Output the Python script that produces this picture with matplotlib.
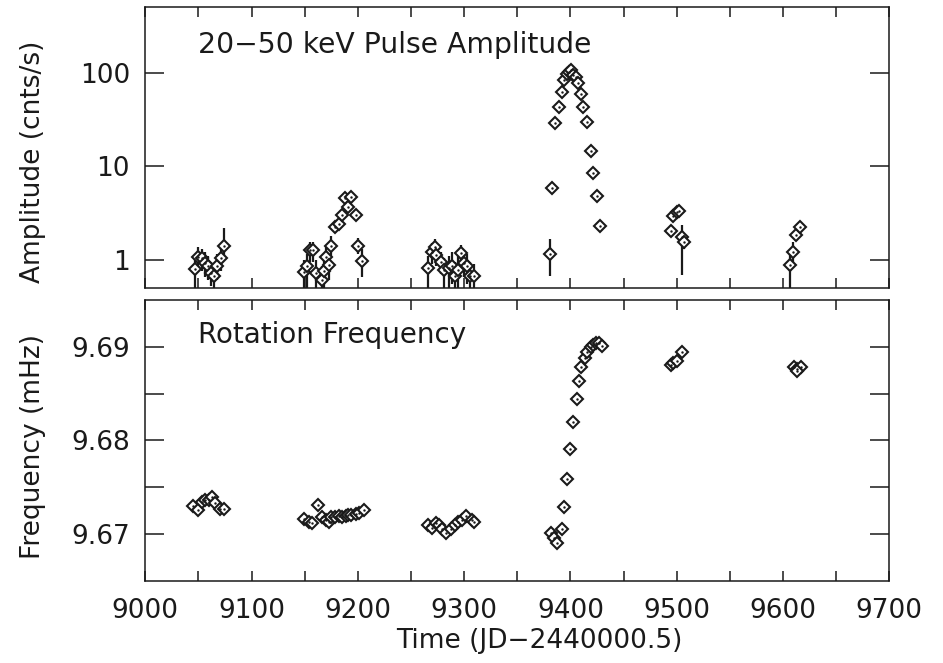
import numpy as np
import matplotlib
matplotlib.use('Agg')
import matplotlib.pyplot as plt
from matplotlib.ticker import MultipleLocator, FixedLocator, NullLocator, FixedFormatter

# 20-50 keV pulse amplitude (cnts/s), with error bar ends
amp_t = [9047, 9050, 9053, 9056, 9059, 9062, 9065, 9068, 9071, 9074,
         9149, 9152, 9155, 9158, 9161, 9166, 9168, 9170, 9173, 9175,
         9179, 9182, 9185, 9188, 9191, 9194, 9198, 9200, 9204,
         9266, 9270, 9273, 9274, 9278, 9281, 9286, 9289, 9291, 9294,
         9297, 9300, 9303, 9306, 9309,
         9381, 9383, 9386, 9389, 9392, 9394, 9397, 9399, 9401, 9402,
         9405, 9407, 9410, 9412, 9416, 9419, 9421, 9425, 9428,
         9495, 9497, 9500, 9502, 9505, 9507,
         9607, 9609, 9612, 9616]
amp = [0.80, 1.08, 1.05, 0.93, 0.85, 0.72, 0.66, 0.85, 1.05, 1.41,
       0.73, 0.85, 1.28, 1.28, 0.72, 0.61, 0.75, 1.08, 0.88, 1.41,
       2.25, 2.4, 3.0, 4.6, 3.7, 4.7, 3.0, 1.41, 0.97,
       0.82, 1.22, 1.38, 1.13, 0.95, 0.78, 0.82, 0.85, 0.66, 0.78,
       1.18, 0.93, 0.85, 0.66, 0.67,
       1.16, 5.9, 29, 43, 63, 84, 98, 103, 108, 95,
       91, 78, 60, 43, 30, 14.6, 8.5, 4.8, 2.3,
       2.04, 2.95, 3.26, 3.35, 1.76, 1.56,
       0.88, 1.22, 1.85, 2.25]
amp_lo = [0.50, 0.80, 0.75, 0.65, 0.60, 0.52, 0.50, 0.60, 0.75, 1.00,
          0.50, 0.50, 0.95, 0.95, 0.50, 0.45, 0.50, 0.80, 0.60, 1.05,
          2.0, 2.15, 2.7, 4.1, 3.3, 4.2, 2.7, 1.15, 0.65,
          0.50, 0.90, 1.05, 0.85, 0.70, 0.50, 0.50, 0.55, 0.45, 0.50,
          0.85, 0.65, 0.55, 0.50, 0.50,
          0.66, 5.6, 28, 42, 61, 82, 95, 100, 105, 92,
          88, 76, 58, 42, 29, 14, 8.1, 4.5, 2.1,
          1.75, 2.7, 3.0, 3.1, 0.69, 1.3,
          0.50, 0.90, 1.6, 2.05]
amp_hi = [1.10, 1.35, 1.30, 1.20, 1.10, 0.95, 0.90, 1.15, 1.35, 2.20,
          1.00, 1.15, 1.55, 1.55, 1.00, 0.85, 1.00, 1.40, 1.15, 1.80,
          2.55, 2.7, 3.35, 5.2, 4.1, 5.2, 3.35, 1.70, 1.30,
          1.10, 1.50, 1.65, 1.40, 1.20, 1.05, 1.10, 1.20, 0.95, 1.10,
          1.45, 1.25, 1.15, 0.90, 0.90,
          1.68, 6.2, 30, 44, 65, 86, 101, 106, 111, 98,
          94, 80, 62, 44, 31, 15.2, 8.9, 5.1, 2.5,
          2.35, 3.2, 3.5, 3.6, 2.37, 1.85,
          1.20, 1.55, 2.1, 2.45]

# rotation frequency (mHz)
frq_t = [9045, 9050, 9053, 9056, 9060, 9063, 9066, 9070, 9074,
         9149, 9154, 9157, 9163, 9166, 9170, 9173, 9175, 9179, 9182,
         9185, 9189, 9191, 9194, 9198, 9201, 9206,
         9266, 9270, 9274, 9276, 9279, 9283, 9288, 9291, 9294, 9298,
         9302, 9307, 9309,
         9382, 9385, 9387, 9392, 9394, 9397, 9400, 9402, 9406, 9408,
         9410, 9414, 9416, 9419, 9421, 9424, 9427, 9430,
         9495, 9497, 9500, 9505,
         9610, 9613, 9617, 9613]
frq = [9.6730, 9.6726, 9.6734, 9.6736, 9.6737, 9.6740, 9.6733, 9.6727, 9.6727,
       9.6716, 9.6713, 9.6712, 9.6731, 9.6718, 9.6715, 9.6713, 9.6718, 9.6718, 9.6719,
       9.6718, 9.6719, 9.6720, 9.6720, 9.6721, 9.6723, 9.6726,
       9.6710, 9.6707, 9.6712, 9.6710, 9.6706, 9.6701, 9.6706, 9.6710, 9.6713, 9.6715,
       9.6719, 9.6715, 9.6713,
       9.6701, 9.6696, 9.6691, 9.6706, 9.6729, 9.6759, 9.6791, 9.6820, 9.6844, 9.6863,
       9.6878, 9.6888, 9.6895, 9.6900, 9.6902, 9.6904, 9.6904, 9.6901,
       9.6881, 9.6883, 9.6885, 9.6895,
       9.6878, 9.6876, 9.6878, 9.6874]

plt.rcParams['font.family'] = 'DejaVu Sans'
plt.rcParams['font.size'] = 19
ink = '#1a1a1a'

fig = plt.figure(figsize=(9.43, 6.63), dpi=100)
ax1 = fig.add_axes([0.154, 0.566, 0.789, 0.4234])
ax2 = fig.add_axes([0.154, 0.1237, 0.789, 0.4238])

amp_a = np.array(amp)
yerr = [amp_a - np.array(amp_lo), np.array(amp_hi) - amp_a]
ax1.errorbar(amp_t, amp, yerr=yerr, fmt='none', ecolor=ink, elinewidth=1.6, capsize=0)
ax1.plot(amp_t, amp, 'D', ms=6.6, mfc='white', mec=ink, mew=1.5, ls='none')
ax1.plot(amp_t, amp, '.', ms=1.5, color=ink, ls='none')
ax1.set_yscale('log')
ax1.set_ylim(0.5, 508)
ax1.yaxis.set_major_locator(FixedLocator([1, 10, 100]))
ax1.yaxis.set_major_formatter(FixedFormatter(['1', '10', '100']))
ax1.yaxis.set_minor_locator(NullLocator())
ax1.set_xticklabels([])
ax1.text(0.071, 0.865, '20\u221250 keV Pulse Amplitude', transform=ax1.transAxes,
         va='center', ha='left', color=ink, fontsize=20.3)
ax1.set_ylabel('Amplitude (cnts/s)', color=ink)
ax1.yaxis.set_label_coords(-0.134, 0.45)

ax2.plot(frq_t, frq, 'D', ms=6.6, mfc='white', mec=ink, mew=1.5, ls='none')
ax2.plot(frq_t, frq, '.', ms=1.5, color=ink, ls='none')
ax2.set_ylim(9.665, 9.695)
ax2.yaxis.set_major_locator(FixedLocator([9.67, 9.68, 9.69]))
ax2.yaxis.set_major_formatter(FixedFormatter(['9.67', '9.68', '9.69']))
ax2.yaxis.set_minor_locator(FixedLocator([9.675, 9.685]))
ax2.text(0.071, 0.875, 'Rotation Frequency', transform=ax2.transAxes,
         va='center', ha='left', color=ink, fontsize=20)
ax2.set_ylabel('Frequency (mHz)', color=ink)
ax2.yaxis.set_label_coords(-0.134, 0.48)
ax2.set_xlabel('Time (JD\u22122440000.5)', color=ink)
ax2.xaxis.set_label_coords(0.53, -0.168)

for ax in (ax1, ax2):
    ax.set_xlim(9000, 9700)
    ax.xaxis.set_major_locator(MultipleLocator(100))
    ax.xaxis.set_minor_locator(MultipleLocator(50))
    ax.tick_params(axis='x', which='both', direction='in', top=True, bottom=True,
                   length=7, width=1.1, colors=ink, pad=12)
    ax.tick_params(axis='y', which='both', direction='in', left=True, right=True,
                   length=14, width=1.1, colors=ink, pad=11)
    for s in ax.spines.values():
        s.set_linewidth(1.1)
        s.set_color(ink)

fig.savefig('out.png', dpi=100)
